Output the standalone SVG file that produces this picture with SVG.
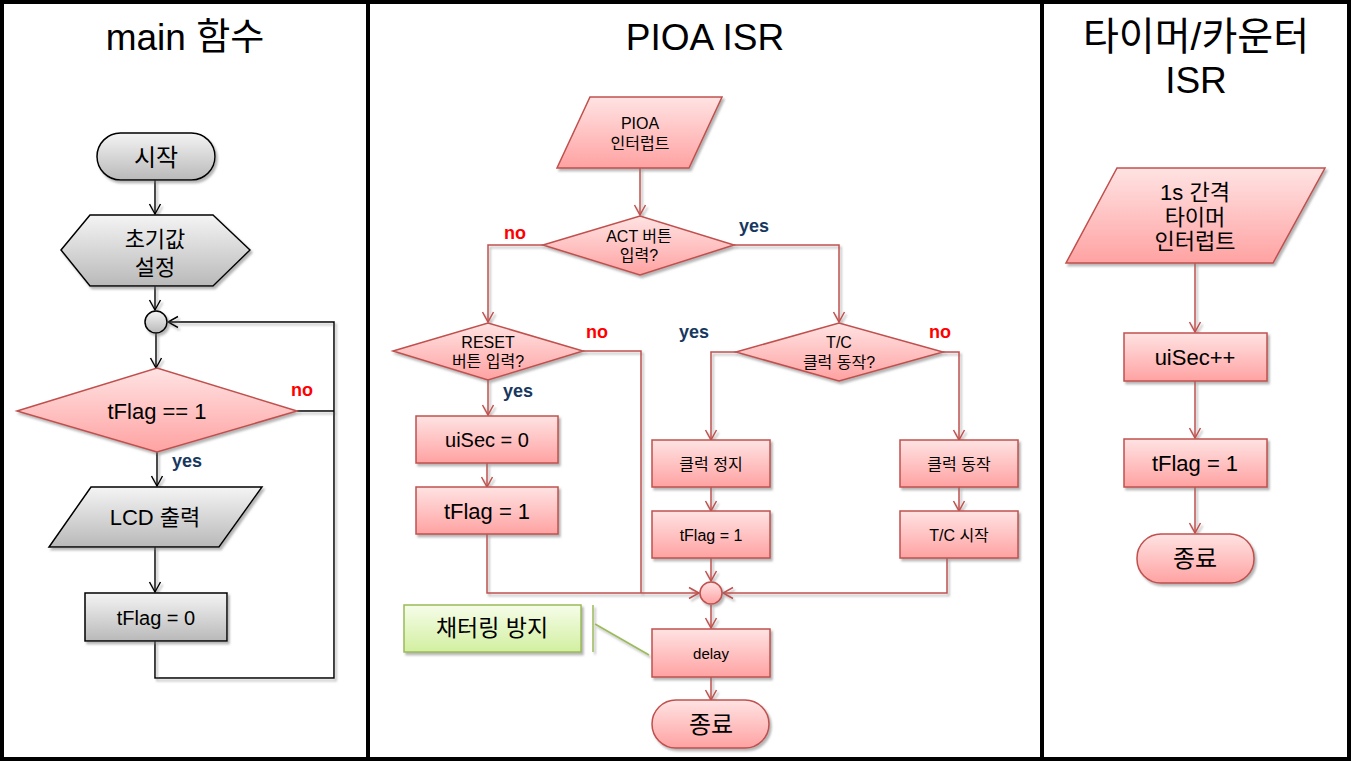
<svg xmlns="http://www.w3.org/2000/svg" width="1351" height="761" viewBox="0 0 1351 761">
<defs>
<linearGradient id="gp" x1="0" y1="0" x2="0" y2="1"><stop offset="0" stop-color="#ffe3e3"/><stop offset="1" stop-color="#ffa2a2"/></linearGradient>
<linearGradient id="gg" x1="0" y1="0" x2="0" y2="1"><stop offset="0" stop-color="#f4f4f4"/><stop offset="1" stop-color="#b9b9b9"/></linearGradient>
<linearGradient id="gn" x1="0" y1="0" x2="0" y2="1"><stop offset="0" stop-color="#f6fde9"/><stop offset="1" stop-color="#d2efa0"/></linearGradient>
<filter id="sh" x="-10%" y="-10%" width="130%" height="140%"><feDropShadow dx="2" dy="2.5" stdDeviation="1" flood-color="#777" flood-opacity="0.55"/></filter>
<marker id="ar" markerUnits="userSpaceOnUse" markerWidth="14" markerHeight="14" refX="11" refY="7" orient="auto"><path d="M1,1.5 L11,7 L1,12.5" fill="none" stroke="#c0504d" stroke-width="1.5"/></marker>
<marker id="ak" markerUnits="userSpaceOnUse" markerWidth="14" markerHeight="14" refX="11" refY="7" orient="auto"><path d="M1,1.5 L11,7 L1,12.5" fill="none" stroke="#000" stroke-width="1.5"/></marker>
<style>
.pink{fill:url(#gp);stroke:#c0504d;stroke-width:1.5;filter:url(#sh)}
.gray{fill:url(#gg);stroke:#000;stroke-width:1.5;filter:url(#sh)}
.green{fill:url(#gn);stroke:#9bbb59;stroke-width:1.5;filter:url(#sh)}
.t{font-family:"Liberation Sans","Noto Sans CJK KR",sans-serif;text-anchor:middle;dominant-baseline:central;fill:#000}
.ttl{font-size:37px}
.s16{font-size:16px}
.s20{font-size:20px}
.s22{font-size:22px}
.s24{font-size:24px}
.cr{fill:none;stroke:#c0504d;stroke-width:1.5}
.ck{fill:none;stroke:#000;stroke-width:1.5}
.cg{fill:none;stroke:#9bbb59;stroke-width:1.5}
.ma{marker-end:url(#ar)}
.mk{marker-end:url(#ak)}
.no{font-family:"Liberation Sans",sans-serif;font-weight:bold;font-size:18px;fill:#ff0000;text-anchor:middle;dominant-baseline:central}
.yes{font-family:"Liberation Sans",sans-serif;font-weight:bold;font-size:18px;fill:#17375e;text-anchor:middle;dominant-baseline:central}
</style>
</defs>
<rect x="0" y="0" width="1351" height="761" fill="#fff"/>
<g id="frame">
<rect x="2" y="2" width="1347" height="757" fill="none" stroke="#000" stroke-width="4"/>
<line x1="368" y1="2" x2="368" y2="759" stroke="#000" stroke-width="4"/>
<line x1="1042" y1="2" x2="1042" y2="759" stroke="#000" stroke-width="4"/>
<text class="t ttl" x="185" y="37">main 함수</text>
<text class="t ttl" x="705" y="37">PIOA ISR</text>
<text class="t ttl" x="1196" y="36" style="font-size:39px">타이머/카운터</text>
<text class="t ttl" x="1196" y="80">ISR</text>
</g>
<g id="connectors" filter="url(#sh)">
<path class="ck mk" d="M155,180 V214"/>
<path class="ck mk" d="M155,286 V310"/>
<path class="ck mk" d="M156,333 V368"/>
<path class="ck mk" d="M157,452 V486"/>
<path class="ck mk" d="M155,547 V592"/>
<path class="ck" d="M297,411 H334"/>
<path class="ck mk" d="M155,641 V678 H334 V322 H168"/>
<path class="cr ma" d="M640,168 V215"/>
<path class="cr ma" d="M543,245 H488 V322"/>
<path class="cr ma" d="M734,245 H839 V322"/>
<path class="cr ma" d="M488,380 V415"/>
<path class="cr" d="M583,351 H641 V593"/>
<path class="cr ma" d="M487,463 V487"/>
<path class="cr ma" d="M487,534 V593 H699"/>
<path class="cr ma" d="M736,352 H711 V440"/>
<path class="cr ma" d="M943,352 H959 V440"/>
<path class="cr ma" d="M711,487 V511"/>
<path class="cr ma" d="M711,558 V581"/>
<path class="cr ma" d="M959,487 V511"/>
<path class="cr ma" d="M947,558 V593 H723"/>
<path class="cr ma" d="M711,605 V628"/>
<path class="cr ma" d="M711,677 V700"/>
<path class="cg" d="M593,605 V652 M595,624 L649,655"/>
<path class="cr ma" d="M1195,263 V332"/>
<path class="cr ma" d="M1195,381 V438"/>
<path class="cr ma" d="M1195,487 V533"/>
</g>
<g id="labels">
<text class="no" x="302" y="390">no</text>
<text class="yes" x="187" y="461">yes</text>
<text class="no" x="515" y="233">no</text>
<text class="yes" x="754" y="226">yes</text>
<text class="no" x="597" y="332">no</text>
<text class="yes" x="518" y="391">yes</text>
<text class="yes" x="694" y="332">yes</text>
<text class="no" x="940" y="332">no</text>
</g>
<g id="m-start"><rect class="gray" x="97" y="133" width="118" height="47" rx="23.5"/><text class="t s24" x="156" y="157">시작</text></g>
<g id="m-init"><polygon class="gray" points="61,250 90,215 213,215 250,250 213,286 90,286"/><text class="t s22" x="155" y="239">초기값</text><text class="t s22" x="155" y="267">설정</text></g>
<g id="m-join"><circle class="gray" cx="156" cy="322" r="11"/></g>
<g id="m-cond"><polygon class="pink" points="17,411 157,368 297,411 157,452"/><text class="t s22" x="157" y="411">tFlag == 1</text></g>
<g id="m-lcd"><polygon class="gray" points="91,487 262,487 219,547 49,547"/><text class="t s22" x="155" y="517">LCD 출력</text></g>
<g id="m-flag"><rect class="gray" x="85" y="593" width="142" height="48"/><text class="t s20" x="156" y="618">tFlag = 0</text></g>
<g id="p-int"><polygon class="pink" points="590,97 722,97 689,168 557,168"/><text class="t s16" x="640" y="123">PIOA</text><text class="t s16" x="640" y="143">인터럽트</text></g>
<g id="p-act"><polygon class="pink" points="543,245 640,216 734,245 640,275"/><text class="t s16" x="639" y="236">ACT 버튼</text><text class="t s16" x="639" y="255">입력?</text></g>
<g id="p-reset"><polygon class="pink" points="393,351 488,323 583,351 488,380"/><text class="t s16" x="488" y="342">RESET</text><text class="t s16" x="488" y="361">버튼 입력?</text></g>
<g id="p-tc"><polygon class="pink" points="736,352 839,323 943,352 839,381"/><text class="t s16" x="839" y="342">T/C</text><text class="t s16" x="839" y="362">클럭 동작?</text></g>
<g id="p-uisec"><rect class="pink" x="416" y="416" width="142" height="47"/><text class="t s20" x="487" y="440">uiSec = 0</text></g>
<g id="p-flag1"><rect class="pink" x="416" y="487" width="142" height="47"/><text class="t s22" x="487" y="511">tFlag = 1</text></g>
<g id="p-stop"><rect class="pink" x="652" y="440" width="118" height="47"/><text class="t s16" x="711" y="464">클럭 정지</text></g>
<g id="p-flag2"><rect class="pink" x="652" y="511" width="118" height="47"/><text class="t s16" x="711" y="535">tFlag = 1</text></g>
<g id="p-run"><rect class="pink" x="900" y="440" width="118" height="47"/><text class="t s16" x="959" y="464">클럭 동작</text></g>
<g id="p-tcstart"><rect class="pink" x="900" y="511" width="118" height="47"/><text class="t s16" x="959" y="535">T/C 시작</text></g>
<g id="p-join"><circle class="pink" cx="711" cy="593" r="11"/></g>
<g id="p-delay"><rect class="pink" x="652" y="629" width="118" height="48"/><text class="t" style="font-size:15px" x="711" y="653">delay</text></g>
<g id="p-end"><rect class="pink" x="652" y="700" width="117" height="48" rx="24"/><text class="t s24" x="711" y="724">종료</text></g>
<g id="p-note"><rect class="green" x="404" y="605" width="177" height="47"/><text class="t" style="font-size:23px" x="492" y="628">채터링 방지</text></g>
<g id="t-int"><polygon class="pink" points="1117,168 1325,168 1273,263 1066,263"/><text class="t s22" x="1195" y="192">1s 간격</text><text class="t s22" x="1195" y="217">타이머</text><text class="t s22" x="1195" y="241">인터럽트</text></g>
<g id="t-uisec"><rect class="pink" x="1124" y="333" width="143" height="48"/><text class="t s22" x="1195" y="357">uiSec++</text></g>
<g id="t-flag"><rect class="pink" x="1124" y="439" width="143" height="48"/><text class="t s22" x="1195" y="463">tFlag = 1</text></g>
<g id="t-end"><rect class="pink" x="1137" y="534" width="117" height="49" rx="24"/><text class="t s24" x="1195" y="558">종료</text></g>
</svg>
